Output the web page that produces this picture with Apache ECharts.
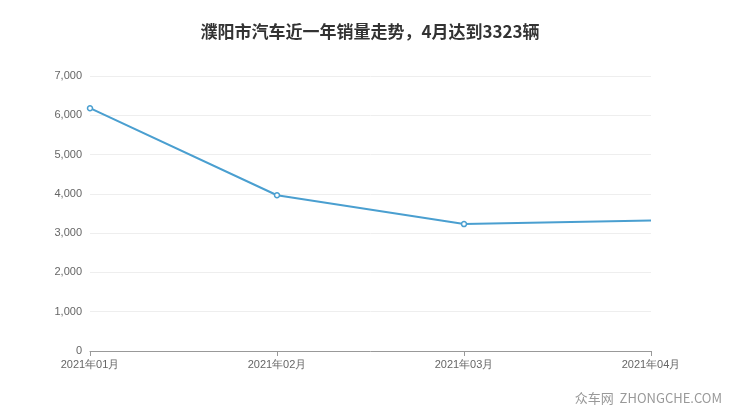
<!DOCTYPE html>
<html><head><meta charset="utf-8">
<script src="https://cdn.jsdelivr.net/npm/echarts@6/dist/echarts.min.js"></script>
<style>html,body{margin:0;padding:0;background:#fff}#c{width:740px;height:417px}</style>
</head><body><div id="c"></div>
<script>
const titleText = '濮阳市汽车近一年销量走势，4月达到3323辆';
const categories = ['2021年01月','2021年02月','2021年03月','2021年04月'];
const sales = [6180, 3965, 3230, 3323];
const yTicks = [0, 1000, 2000, 3000, 4000, 5000, 6000, 7000];

const chart = echarts.init(document.getElementById('c'));
chart.setOption({
  animation: false,
  title: {
    text: titleText, left: 'center', top: 18,
    textStyle: {fontSize: 17, fontWeight: 'bold', color: '#333', fontFamily: 'Noto Sans CJK SC'}
  },
  graphic: [{
    type: 'text', right: 18, bottom: 12,
    style: {text: '众车网  ZHONGCHE.COM', fill: '#999', font: '13px "Noto Sans CJK SC"'}
  }],
  grid: {left: 90, right: 89, top: 76, bottom: 66},
  xAxis: {
    type: 'category', data: categories, boundaryGap: false,
    axisLine: {lineStyle: {color: '#999'}},
    axisTick: {lineStyle: {color: '#999'}},
    axisLabel: {color: '#666', fontSize: 11, fontFamily: 'Liberation Sans'}
  },
  yAxis: {
    type: 'value', min: yTicks[0], max: yTicks[yTicks.length-1], interval: 1000,
    axisLine: {show: false}, axisTick: {show: false},
    axisLabel: {color: '#666', fontSize: 11, fontFamily: 'Liberation Sans'},
    splitLine: {lineStyle: {color: '#eee'}}
  },
  series: [{
    type: 'line', data: sales,
    symbol: 'circle', symbolSize: (v, p) => p.dataIndex === sales.length - 1 ? 0 : 5,
    lineStyle: {color: '#4a9fd0', width: 2},
    itemStyle: {color: '#fff', borderColor: '#4a9fd0', borderWidth: 1.5}
  }]
});
</script></body></html>
